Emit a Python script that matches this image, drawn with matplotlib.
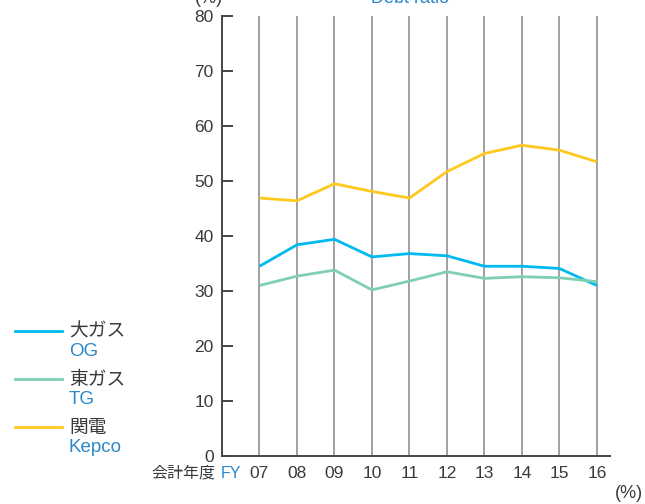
import matplotlib
matplotlib.use("Agg")
import matplotlib.pyplot as plt

plt.rcParams['font.family'] = ['Liberation Sans', 'Noto Sans CJK JP', 'DejaVu Sans']

years = [7, 8, 9, 10, 11, 12, 13, 14, 15, 16]
year_labels = ["07", "08", "09", "10", "11", "12", "13", "14", "15", "16"]
og = [34.5, 38.4, 39.4, 36.2, 36.8, 36.4, 34.5, 34.5, 34.1, 31.0]
tg = [31.0, 32.7, 33.8, 30.2, 31.8, 33.5, 32.3, 32.6, 32.4, 31.7]
kepco = [46.9, 46.4, 49.5, 48.1, 46.9, 51.7, 55.0, 56.5, 55.6, 53.5]

names_jp = ["大ガス", "東ガス", "関電"]
names_en = ["OG", "TG", "Kepco"]
colors = ["#00b9ef", "#7fcfb2", "#ffc81e"]
series = [og, tg, kepco]

txt = "#3a3a3a"
blue_txt = "#2a88c8"

fig = plt.figure(figsize=(6.45, 5.04), dpi=100)
ax = fig.add_axes([222/645, 1-456/504, (610-222)/645, 440/504])

for x in years:
    ax.axvline(x, color="#9a9a9a", lw=1.3, zorder=1)

for s, c in zip(series, colors):
    ax.plot(years, s, color=c, lw=2.0, zorder=3, solid_capstyle='butt')

ax.set_xlim(6, 16.35)
ax.set_ylim(0, 80)
ax.set_yticks(range(0, 81, 10))
ax.set_xticks(years)
ax.set_xticklabels(year_labels)
for sp in ["top", "right"]:
    ax.spines[sp].set_visible(False)
for sp in ["left", "bottom"]:
    ax.spines[sp].set_color("#444444")
    ax.spines[sp].set_linewidth(1.4)
ax.tick_params(axis='y', direction='in', length=8, width=1.4, color="#444444",
               labelsize=12.5, labelcolor=txt, pad=6)
ax.tick_params(axis='x', length=0, labelsize=12.5, labelcolor=txt, pad=7)

# x axis caption
fig.text(215/645, 1-473/504, "会計年度", ha='right', va='center', fontsize=11.5, color=txt)
fig.text(221/645, 1-473/504, "FY", ha='left', va='center', fontsize=11.5, color=blue_txt)
fig.text(643/645, 1-493/504, "(%)", ha='right', va='center', fontsize=13, color=txt)

# header, cut off at the top edge as in the reference
fig.text(223/645, 1-3/504, "(%)", ha='right', va='baseline', fontsize=13, color=txt)
fig.text(410/645, 1-3/504, "Debt ratio", ha='center', va='baseline', fontsize=13, color=blue_txt)

# legend
leg_y = [331, 379, 427]
for yy, c, jp, en in zip(leg_y, colors, names_jp, names_en):
    fig.add_artist(plt.Line2D([15/645, 62/645], [1-yy/504, 1-yy/504], color=c, lw=2.0))
    fig.text(69/645, 1-(yy+1)/504, jp, ha='left', va='center', fontsize=13.5, color=txt)
    fig.text(69/645, 1-(yy+21)/504, en, ha='left', va='center', fontsize=13.5, color=blue_txt)

fig.savefig("out.png", dpi=100)
